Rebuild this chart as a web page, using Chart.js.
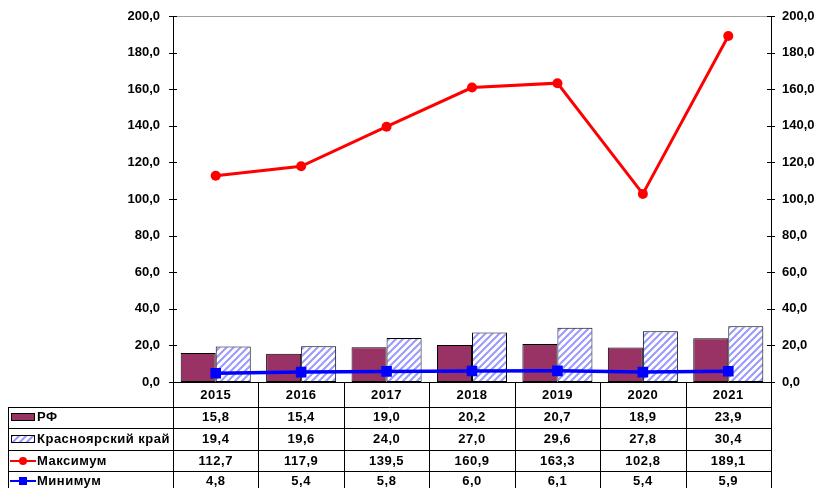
<!DOCTYPE html>
<html>
<head>
<meta charset="utf-8">
<script src="https://cdn.jsdelivr.net/npm/chart.js@4.4.0/dist/chart.umd.min.js"></script>
<style>
    html, body { margin: 0; padding: 0; background: #fff; }
    #wrap { width: 820px; height: 488px; position: relative; }
</style>
</head>
<body>
<div id="wrap"><canvas id="chart" width="820" height="488"></canvas></div>
<script>
const years = ["2015", "2016", "2017", "2018", "2019", "2020", "2021"];
const rfValues = [15.8, 15.4, 19.0, 20.2, 20.7, 18.9, 23.9];
const krasValues = [19.4, 19.6, 24.0, 27.0, 29.6, 27.8, 30.4];
const maxValues = [112.7, 117.9, 139.5, 160.9, 163.3, 102.8, 189.1];
const minValues = [4.8, 5.4, 5.8, 6.0, 6.1, 5.4, 5.9];
const seriesNames = ["РФ", "Красноярский край", "Максимум", "Минимум"];

const FONT = "'Liberation Sans', Arial, sans-serif";
const fmt = v => v.toFixed(1).replace(".", ",");

// hatched fill for the second bar series
function makeHatch() {
    const c = document.createElement("canvas");
    c.width = 7; c.height = 7;
    const g = c.getContext("2d");
    g.fillStyle = "#fff";
    g.fillRect(0, 0, 7, 7);
    g.strokeStyle = "#9999ff";
    g.lineWidth = 2;
    g.beginPath();
    g.moveTo(-1, 8); g.lineTo(8, -1);
    g.moveTo(-1, 1); g.lineTo(1, -1);
    g.moveTo(6, 8); g.lineTo(8, 6);
    g.stroke();
    return g.createPattern(c, "repeat");
}
const hatch = makeHatch();

// draws cross ticks, top line and the data table under the plot
const tablePlugin = {
    id: "dataTable",
    afterDraw(chart) {
        const ctx = chart.ctx;
        const area = chart.chartArea;
        const yS = chart.scales.y;
        const n = years.length;
        const w = (area.right - area.left) / n;
        ctx.save();

        // top line
        ctx.strokeStyle = "#a0a0a0";
        ctx.lineWidth = 1;
        ctx.beginPath();
        ctx.moveTo(area.left, Math.round(area.top) + 0.5);
        ctx.lineTo(area.right, Math.round(area.top) + 0.5);
        ctx.stroke();

        // axis ticks
        ctx.strokeStyle = "#000";
        ctx.beginPath();
        for (let v = 0; v <= 200; v += 20) {
            const y = Math.round(yS.getPixelForValue(v)) + 0.5;
            ctx.moveTo(area.left - 4, y); ctx.lineTo(area.left + 4, y);
            ctx.moveTo(area.right - 4, y); ctx.lineTo(area.right + 4, y);
        }
        ctx.stroke();

        // table grid
        const rowLines = [407, 428, 450, 471];
        const bottom = 488;
        ctx.beginPath();
        for (let k = 0; k <= n; k++) {
            const x = Math.round(area.left + k * w) + 0.5;
            ctx.moveTo(x, area.bottom); ctx.lineTo(x, bottom);
        }
        rowLines.forEach(y => {
            ctx.moveTo(8, y + 0.5); ctx.lineTo(area.right, y + 0.5);
        });
        ctx.moveTo(8.5, rowLines[0]); ctx.lineTo(8.5, bottom);
        ctx.moveTo(area.left, Math.round(area.bottom) + 0.5);
        ctx.lineTo(area.right, Math.round(area.bottom) + 0.5);
        ctx.stroke();

        // texts
        ctx.fillStyle = "#000";
        ctx.font = "bold 13px " + FONT;
        ctx.letterSpacing = "0.5px";
        ctx.textAlign = "center";
        ctx.textBaseline = "middle";
        const rowCenters = [395, 417, 439, 461, 481];
        const rows = [rfValues, krasValues, maxValues, minValues];
        for (let i = 0; i < n; i++) {
            const cx = area.left + (i + 0.5) * w;
            ctx.fillText(years[i], cx, rowCenters[0]);
            rows.forEach((r, j) => ctx.fillText(fmt(r[i]), cx, rowCenters[j + 1]));
        }

        // legend keys
        ctx.textAlign = "left";
        seriesNames.forEach((name, j) => ctx.fillText(name, 37, rowCenters[j + 1]));

        let y = rowCenters[1];
        ctx.fillStyle = "#993366";
        ctx.strokeStyle = "#000";
        ctx.fillRect(11, y - 4, 24, 8);
        ctx.strokeRect(11.5, y - 3.5, 23, 7);

        y = rowCenters[2];
        ctx.fillStyle = hatch;
        ctx.fillRect(11, y - 4, 24, 8);
        ctx.strokeRect(11.5, y - 3.5, 23, 7);

        y = rowCenters[3];
        ctx.strokeStyle = "#ff0000";
        ctx.fillStyle = "#ff0000";
        ctx.lineWidth = 2;
        ctx.beginPath(); ctx.moveTo(10, y); ctx.lineTo(36, y); ctx.stroke();
        ctx.beginPath(); ctx.arc(23, y, 4, 0, Math.PI * 2); ctx.fill();

        y = rowCenters[4];
        ctx.strokeStyle = "#0000ff";
        ctx.fillStyle = "#0000ff";
        ctx.beginPath(); ctx.moveTo(10, y); ctx.lineTo(36, y); ctx.stroke();
        ctx.fillRect(19, y - 4, 8, 8);

        ctx.restore();
    }
};

new Chart(document.getElementById("chart"), {
    type: "bar",
    data: {
        labels: years,
        datasets: [{
            label: seriesNames[0],
            data: rfValues,
            backgroundColor: "#993366",
            borderColor: "#000",
            borderWidth: 1,
            borderSkipped: false,
            order: 2
        }, {
            label: seriesNames[1],
            data: krasValues,
            backgroundColor: hatch,
            borderColor: "#000",
            borderWidth: 1,
            borderSkipped: false,
            order: 2
        }, {
            type: "line",
            label: seriesNames[2],
            data: maxValues,
            borderColor: "#ff0000",
            backgroundColor: "#ff0000",
            borderWidth: 3,
            pointRadius: 5,
            pointBorderWidth: 0,
            tension: 0,
            order: 1
        }, {
            type: "line",
            label: seriesNames[3],
            data: minValues,
            borderColor: "#0000ff",
            backgroundColor: "#0000ff",
            borderWidth: 3.5,
            pointStyle: "rect",
            pointRadius: 7.5,
            pointBorderWidth: 0,
            tension: 0,
            order: 1
        }]
    },
    options: {
        responsive: false,
        animation: false,
        layout: { padding: { top: 16, bottom: 106, left: 0, right: 0 } },
        plugins: {
            legend: { display: false },
            tooltip: { enabled: false }
        },
        datasets: {
            bar: { categoryPercentage: 0.82, barPercentage: 1.0 }
        },
        scales: {
            x: {
                display: false,
                offset: true
            },
            y: {
                position: "left",
                min: 0,
                max: 200,
                afterFit: s => { s.width = 173; s.paddingTop = 0; s.paddingBottom = 0; },
                ticks: {
                    stepSize: 20,
                    padding: 13,
                    color: "#000",
                    font: { family: FONT, size: 13, weight: "bold" },
                    callback: v => fmt(v)
                },
                grid: { display: false, drawTicks: false },
                border: { display: true, color: "#000", width: 1 }
            },
            y1: {
                position: "right",
                min: 0,
                max: 200,
                afterFit: s => { s.width = 49; s.paddingTop = 0; s.paddingBottom = 0; },
                ticks: {
                    stepSize: 20,
                    padding: 11,
                    color: "#000",
                    font: { family: FONT, size: 13, weight: "bold" },
                    callback: v => fmt(v)
                },
                grid: { display: false, drawTicks: false },
                border: { display: true, color: "#000", width: 1 }
            }
        }
    },
    plugins: [tablePlugin]
});
</script>
</body>
</html>
